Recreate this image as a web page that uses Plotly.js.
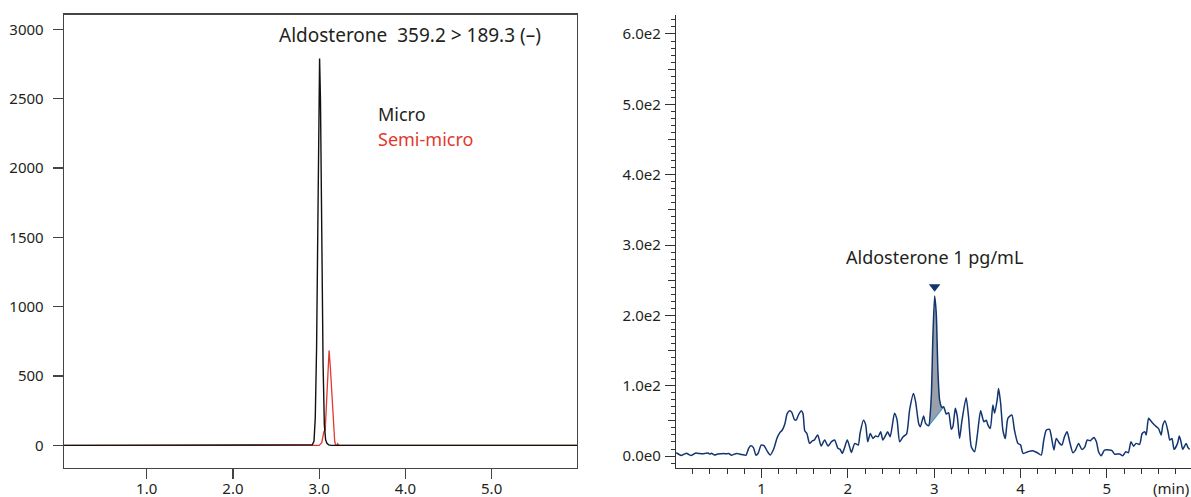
<!DOCTYPE html>
<html>
<head>
<meta charset="utf-8">
<script src="https://cdn.plot.ly/plotly-3.0.1.min.js"></script>
<style>html,body{margin:0;padding:0;background:#fff;}#chart{width:1191px;height:497px;}</style>
</head>
<body>
<div id="chart"></div>
<script>
// ---------- Left panel: Aldosterone 359.2 > 189.3 (–) ----------
const microX = [0.04, 2.88, 2.92, 2.94, 2.955, 2.97, 2.985, 3.0, 3.005, 3.015, 3.03, 3.045, 3.06, 3.075, 3.09, 3.11, 3.14, 5.99];
const microY = [0, 0, 4, 30, 200, 700, 1700, 2600, 2790, 2500, 1500, 600, 150, 40, 15, 4, 0, 0];
const semiX = [0.04, 3.00, 3.03, 3.045, 3.055, 3.07, 3.085, 3.10, 3.115, 3.13, 3.15, 3.165, 3.18, 3.19, 3.205, 3.215, 3.23, 5.99];
const semiY = [0, 0, 20, 80, 100, 110, 280, 520, 685, 560, 330, 140, 30, 5, 0, 12, 0, 0];
const leftXTicks = [1, 2, 3, 4, 5];
const leftXLabels = ['1.0', '2.0', '3.0', '4.0', '5.0'];
const leftYTicks = [0, 500, 1000, 1500, 2000, 2500, 3000];

// ---------- Right panel: Aldosterone 1 pg/mL ----------
const rtX = [0.01,0.04,0.07,0.10,0.13,0.16,0.185,0.21,0.24,0.28,0.32,0.35,0.38,0.40,0.42,0.455,0.49,0.53,0.56,0.59,0.62,0.65,0.68,0.71,0.74,0.765,0.80,0.82,0.85,0.875,0.905,0.935,0.96,0.995,1.03,1.065,1.10,1.14,1.18,1.21,1.24,1.27,1.295,1.325,1.35,1.38,1.40,1.425,1.46,1.48,1.50,1.525,1.556,1.59,1.61,1.65,1.69,1.73,1.77,1.81,1.846,1.884,1.91,1.935,1.962,1.993,2.02,2.04,2.08,2.12,2.14,2.18,2.205,2.23,2.26,2.29,2.32,2.35,2.38,2.405,2.44,2.46,2.49,2.54,2.57,2.60,2.64,2.68,2.715,2.76,2.785,2.82,2.84,2.877,2.90,2.935,2.966,2.985,3.005,3.024,3.043,3.063,3.09,3.11,3.14,3.167,3.198,3.217,3.245,3.268,3.294,3.32,3.37,3.398,3.43,3.468,3.50,3.538,3.576,3.604,3.62,3.65,3.68,3.70,3.73,3.746,3.77,3.796,3.824,3.854,3.90,3.93,3.97,4.00,4.03,4.086,4.14,4.19,4.24,4.27,4.30,4.337,4.357,4.387,4.415,4.453,4.48,4.51,4.54,4.57,4.607,4.635,4.673,4.71,4.743,4.774,4.81,4.85,4.88,4.905,4.936,4.974,5.03,5.06,5.09,5.15,5.186,5.22,5.25,5.28,5.31,5.34,5.38,5.41,5.44,5.457,5.484,5.51,5.554,5.60,5.63,5.65,5.676,5.71,5.73,5.755,5.78,5.82,5.84,5.86,5.88,5.92,5.94,5.96];
const rtY = [4.7,2.5,0.8,2.5,3.8,2.0,0.8,2.5,4.2,3.5,3.2,3.8,4.2,2.8,3.8,1.6,2.8,3.2,3.5,3.2,3.6,1.2,2.5,3.6,3.0,2.2,1.4,1.2,11,14.5,12,1.2,4,15.5,14.5,7,1.5,10,26,33,37,46,60,64.5,62,52,51,58,64.5,60,36,32,18,21.8,22.7,29.9,14.2,22.8,14.2,20.4,22.8,11,9.5,3.8,12.3,22.8,13,5.2,18,15.6,32,51,45,20.4,32,25,28.4,27.5,34.6,22.8,30,34.6,27.5,60.7,51,20.4,27.5,31.3,65.4,89,77,46.4,41.7,57,46.4,43,84,170,227.6,203,122,79.6,69,70,59.7,61.6,38,42,67.8,56,25,48.8,83,56,13.3,6.2,30,64.4,48.8,51,45,39,72.5,61,79.7,96,75,37,25,53.6,58.3,37,18,16,3.8,6.2,7.6,5,1.4,22.8,37,38,28,8.5,25,18,15.6,27.5,34.6,20.4,4.7,8,18,9.5,12.3,22.8,21.8,26.5,20.4,6.2,0.5,8.5,8.5,7.6,2.8,2.8,0.5,6.2,4.7,20.4,14,18,16.6,32,34.6,30,53.6,50,44,39,30,44,50,34.6,22.8,25,9.5,18,28.4,20.4,9.5,18,12.3,9.5];
const peakStart = 2.935;   // integration start (min)
const peakEnd = 3.11;      // integration end (min)
const rightXTicks = [1, 2, 3, 4, 5];
const rightYTicks = [0, 50, 100, 150, 200, 250, 300, 350, 400, 450, 500, 550, 600];
const rightYLabels = ['0.0e0', '', '1.0e2', '', '2.0e2', '', '3.0e2', '', '4.0e2', '', '5.0e2', '', '6.0e2'];
const rightYMajor = [0, 100, 200, 300, 400, 500, 600];

// derived integration polygon / baseline from the data
const pkX = [], pkY = [];
rtX.forEach((x, i) => { if (x >= peakStart - 1e-9 && x <= peakEnd + 1e-9) { pkX.push(x); pkY.push(rtY[i]); } });
const apexIdx = rtY.indexOf(Math.max(...rtY));
const apexX = rtX[apexIdx], apexY = rtY[apexIdx];

const FONT = 'Noto Sans, Open Sans, sans-serif';
const TXT = '#231f20';
const NAVY = '#12356f';

const traces = [
  {x: semiX, y: semiY, mode: 'lines', line: {color: '#e2382f', width: 1.3}, xaxis: 'x', yaxis: 'y', hoverinfo: 'skip'},
  {x: microX, y: microY, mode: 'lines', line: {color: '#111111', width: 1.4}, xaxis: 'x', yaxis: 'y', hoverinfo: 'skip'},
  {x: pkX, y: pkY, mode: 'lines', fill: 'toself', fillcolor: '#9aa0a9', line: {width: 0, color: 'rgba(0,0,0,0)'}, xaxis: 'x2', yaxis: 'y2', hoverinfo: 'skip'},
  {x: [pkX[0], pkX[pkX.length - 1]], y: [pkY[0], pkY[pkY.length - 1]], mode: 'lines', line: {color: '#3d9bd8', width: 1.2}, xaxis: 'x2', yaxis: 'y2', hoverinfo: 'skip'},
  {x: rtX, y: rtY, mode: 'lines', line: {color: NAVY, width: 1.5, shape: 'spline', smoothing: 0.6}, xaxis: 'x2', yaxis: 'y2', hoverinfo: 'skip'},
  {x: [apexX], y: [apexY + 13], mode: 'markers', marker: {symbol: 'triangle-down', size: 10, color: NAVY}, xaxis: 'x2', yaxis: 'y2', hoverinfo: 'skip'},
  {x: [null], y: [null], mode: 'markers', xaxis: 'x2', yaxis: 'y3', hoverinfo: 'skip'}
];

const W = 1191, H = 497;
const tickFont = {family: FONT, size: 15, color: TXT};
const layout = {
  width: W, height: H,
  margin: {l: 0, r: 0, t: 0, b: 0},
  paper_bgcolor: '#ffffff', plot_bgcolor: '#ffffff',
  showlegend: false,
  xaxis: {
    domain: [64 / W, 577 / W], range: [0.041, 5.99], anchor: 'y',
    tickmode: 'array', tickvals: leftXTicks, ticktext: leftXLabels,
    ticks: 'outside', ticklen: 10, tickwidth: 1.2, tickcolor: '#444',
    showline: true, mirror: true, linecolor: '#444', linewidth: 1.3,
    showgrid: false, zeroline: false, tickfont: tickFont, ticklabelstandoff: -3
  },
  yaxis: {
    domain: [1 - 468 / H, 1 - 14.7 / H], range: [-163, 3106], anchor: 'x',
    tickmode: 'array', tickvals: leftYTicks,
    ticks: 'outside', ticklen: 10, tickwidth: 1.2, tickcolor: '#444',
    showline: true, mirror: true, linecolor: '#444', linewidth: 1.3,
    showgrid: false, zeroline: false, tickfont: tickFont, ticklabelstandoff: 6
  },
  xaxis2: {
    domain: [676 / W, 1], range: [0.008, 5.976], anchor: 'y2',
    tickmode: 'array', tickvals: rightXTicks,
    ticks: 'outside', ticklen: 9, tickwidth: 1.1, tickcolor: '#333',
    minor: {ticks: 'outside', dtick: 0.2, tick0: 0, ticklen: 5, tickwidth: 1, tickcolor: '#333', showgrid: false},
    showline: true, linecolor: '#333', linewidth: 1.2,
    showgrid: false, zeroline: false, tickfont: tickFont, ticklabelstandoff: -2
  },
  yaxis2: {
    domain: [1 - 468 / H, 1 - 15 / H], range: [-17, 627], anchor: 'x2',
    tickmode: 'array', tickvals: rightYTicks, ticktext: rightYLabels,
    ticks: 'outside', ticklen: 7, tickwidth: 1, tickcolor: '#333',
    minor: {ticks: 'outside', dtick: 10, tick0: 0, ticklen: 4, tickwidth: 1, tickcolor: '#333', showgrid: false},
    showline: true, linecolor: '#333', linewidth: 1.2,
    showgrid: false, zeroline: false, tickfont: tickFont, ticklabelstandoff: 4
  },
  yaxis3: {
    domain: [1 - 468 / H, 1 - 15 / H], range: [-17, 627], anchor: 'x2', overlaying: 'y2', side: 'left',
    tickmode: 'array', tickvals: rightYMajor, showticklabels: false,
    ticks: 'outside', ticklen: 10, tickwidth: 1, tickcolor: '#333',
    showline: false, showgrid: false, zeroline: false
  },
  annotations: [
    {xref: 'x', yref: 'y', x: 4.05, y: 2961, text: 'Aldosterone\u00a0\u00a0359.2 > 189.3 (–)', showarrow: false, xanchor: 'center', yanchor: 'middle', font: {family: FONT, size: 19, color: TXT}},
    {xref: 'x', yref: 'y', x: 3.66, y: 2391, text: 'Micro', showarrow: false, xanchor: 'left', yanchor: 'middle', font: {family: FONT, size: 18, color: TXT}},
    {xref: 'x', yref: 'y', x: 3.66, y: 2211, text: 'Semi-micro', showarrow: false, xanchor: 'left', yanchor: 'middle', font: {family: FONT, size: 18, color: '#e2382f'}},
    {xref: 'x2', yref: 'y2', x: apexX, y: 283, text: 'Aldosterone 1 pg/mL', showarrow: false, xanchor: 'center', yanchor: 'middle', font: {family: FONT, size: 18, color: TXT}},
    {xref: 'paper', yref: 'paper', x: 1, y: 1 - 488 / H, text: '(min)', showarrow: false, xanchor: 'right', yanchor: 'middle', font: {family: FONT, size: 15, color: TXT}}
  ]
};

Plotly.newPlot('chart', traces, layout, {staticPlot: true, displayModeBar: false});
</script>
</body>
</html>
